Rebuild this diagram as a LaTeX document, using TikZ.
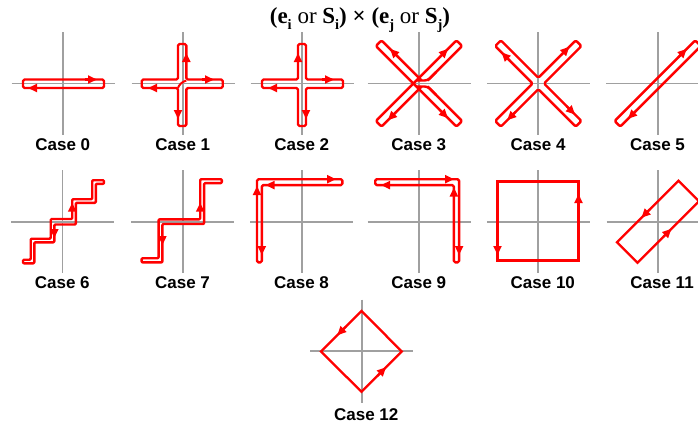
\documentclass[tikz,border=0pt]{standalone}
\usepackage{fontspec}
\setmainfont{Liberation Serif}
\newfontfamily\labfont{Liberation Sans}
\usetikzlibrary{arrows.meta}
\definecolor{axgray}{RGB}{160,160,160}
\definecolor{lred}{RGB}{255,0,0}
\newcommand{\drawaxes}[2]{\draw[ax] ({#1-51.5},#2) -- ({#1+51.5},#2); \draw[ax] (#1,{#2-51.5}) -- (#1,{#2+51.5});}
\newcommand{\lsub}[1]{\raisebox{-0.28em}{\fontsize{14.5}{14.5}\selectfont\bfseries #1}}
\begin{document}
\begin{tikzpicture}[x=1pt,y=-1pt,
  ax/.style={draw=axgray,line width=1.7pt},
  rl/.style={draw=lred,line width=2.4pt,rounded corners=1.5pt,line join=round},
  sq/.style={draw=lred,line width=2.3pt,line join=miter},
  arr/.style={draw=lred,line width=2.1pt,-{Triangle[length=9pt,width=8pt]}},
  lab/.style={font=\labfont\bfseries\fontsize{17}{17}\selectfont,anchor=base west,inner sep=0pt},
  ttl/.style={font=\fontsize{23}{23}\selectfont,anchor=base,inner sep=0pt}]
\useasboundingbox (0,0) rectangle (698,426);

% title
\node[ttl] (title) at (360,23.5) {\textbf{(e}\lsub{i} or \textbf{S}\lsub{i}\textbf{)} \textbf{×} \textbf{(e}\lsub{j} or \textbf{S}\lsub{j}\textbf{)}};

% axes
\drawaxes{63}{83.5}
\drawaxes{183}{83.5}
\drawaxes{302}{83.5}
\drawaxes{419}{83.5}
\drawaxes{538.3}{83.5}
\drawaxes{657.7}{83.5}
\drawaxes{62.5}{221.7}
\drawaxes{182.7}{221.7}
\drawaxes{301.7}{221.7}
\drawaxes{419}{221.7}
\drawaxes{538.3}{221.7}
\drawaxes{658}{221.7}
\drawaxes{361.7}{351.2}

% Case 0
\draw[rl] (23,79.5) rectangle (104,88);
\draw[arr] (85,79.5) -- (97,79.5);
\draw[arr] (40,88) -- (28,88);

% Case 1
\draw[rl] (141.7,79.5) -- (178,79.5) -- (178,44) -- (186.3,44) -- (186.3,79.5) -- (222.7,79.5) -- (222.7,88) -- (186.3,88) -- (186.3,126) -- (178,126) -- (178,88) -- (141.7,88) -- cycle;
\draw[draw=lred,line width=2pt] (186.3,80.5) .. controls (181.5,82) and (179,85) .. (178,88);
\draw[arr] (186.3,65) -- (186.3,53);
\draw[arr] (202,79.5) -- (214,79.5);
\draw[arr] (160,88) -- (148,88);
\draw[arr] (178,107) -- (178,119);

% Case 2
\draw[rl] (262,79.5) -- (298,79.5) -- (298,44) -- (306,44) -- (306,79.5) -- (343,79.5) -- (343,88) -- (306,88) -- (306,126) -- (298,126) -- (298,88) -- (262,88) -- cycle;
\draw[arr] (298,65) -- (298,53);
\draw[arr] (322,79.5) -- (334,79.5);
\draw[arr] (280,88) -- (268,88);
\draw[arr] (306,107) -- (306,119);

% Case 3
\begin{scope}[shift={(419,83.5)},rotate=-45]
\draw[rl] (-0.24,-4) -- (-57,-4) -- (-57,4) -- (57,4) -- (57,-4) -- (8.25,-4);
\draw[rl,rounded corners=3pt] (20,-4) -- (8.25,-4) -- (0.25,4);
\draw[rl] (4,0.25) -- (4,57) -- (-4,57) -- (-4,-57) -- (4,-57) -- (4,-8.25);
\draw[rl,rounded corners=3pt] (4,-20) -- (4,-8.25) -- (-4,-0.25);
\draw[arr] (-33,-4) -- (-45,-4);
\draw[arr] (-4,-33) -- (-4,-45);
\draw[arr] (33,4) -- (45,4);
\draw[arr] (4,36) -- (4,48);
\end{scope}

% Case 4
\begin{scope}[shift={(538.3,83.5)},rotate=-45]
\draw[rl] (-57,-4) -- (-4,-4) -- (-4,-57) -- (4,-57) -- (4,-4) -- (57,-4) -- (57,4) -- (4,4) -- (4,57) -- (-4,57) -- (-4,4) -- (-57,4) -- cycle;
\draw[arr] (-36,4) -- (-48,4);
\draw[arr] (-4,-36) -- (-4,-48);
\draw[arr] (36,-4) -- (48,-4);
\draw[arr] (4,36) -- (4,48);
\end{scope}

% Case 5
\begin{scope}[shift={(657.7,83.5)},rotate=45]
\draw[rl] (-57,-4) rectangle (57,4);
\draw[arr] (33,-4) -- (45,-4);
\draw[arr] (-34,4) -- (-46,4);
\end{scope}

% Case 6
\draw[rl,rounded corners=1pt] (23,259.7) -- (30.7,259.7) -- (30.7,238.7) -- (50.7,238.7) -- (50.7,219) -- (72.2,219) -- (72.2,199.2) -- (92.2,199.2) -- (92.2,180.2) -- (104,180.2) -- (104,183.8) -- (95.8,183.8) -- (95.8,202.8) -- (75.8,202.8) -- (75.8,224.5) -- (54.3,224.5) -- (54.3,242.3) -- (34.3,242.3) -- (34.3,263.3) -- (23,263.3) -- cycle;
\draw[arr] (54.3,228) -- (54.3,238);
\draw[arr] (72.2,213) -- (72.2,202.7);

% Case 7
\draw[rl,rounded corners=1pt] (141.6,258.2) -- (158.6,258.2) -- (158.6,219.3) -- (200.2,219.3) -- (200.2,179.2) -- (221.8,179.2) -- (221.8,183.1) -- (204.1,183.1) -- (204.1,224) -- (162.4,224) -- (162.4,262.4) -- (141.6,262.4) -- cycle;
\draw[arr] (162.4,234) -- (162.4,245);
\draw[arr] (200.2,213) -- (200.2,202.7);

% Case 8
\draw[rl] (257,262.4) -- (257,179.2) -- (342.4,179.2) -- (342.4,185.1) -- (261.8,185.1) -- (261.8,262.4) -- cycle;
\draw[arr] (257,198) -- (257,186);
\draw[arr] (324,179.2) -- (336,179.2);
\draw[arr] (277,185.1) -- (265.5,185.1);
\draw[arr] (261.8,243) -- (261.8,255);

% Case 9
\draw[rl] (375.2,179.2) -- (459.1,179.2) -- (459.1,262.4) -- (453.9,262.4) -- (453.9,185.1) -- (375.2,185.1) -- cycle;
\draw[arr] (443,179.2) -- (454,179.2);
\draw[arr] (392,185.1) -- (381,185.1);
\draw[arr] (453.9,199) -- (453.9,187.5);
\draw[arr] (459.1,243) -- (459.1,255);

% Case 10
\draw[sq] (497.5,181.5) rectangle (578.5,260.5);
\draw[arr] (578.5,206) -- (578.5,194);
\draw[arr] (497.5,243) -- (497.5,255);

% Case 11
\begin{scope}[shift={(658,221.7)},rotate=45]
\draw[sq] (-43.5,-14.5) rectangle (43.5,14.5);
\draw[arr] (3,-14.5) -- (-9,-14.5);
\draw[arr] (-7,14.5) -- (4.5,14.5);
\end{scope}

% Case 12
\draw[sq] (361.5,311) -- (401.8,351.5) -- (361.5,391.8) -- (321,351.5) -- cycle;
\draw[arr] (346,326.5) -- (337.2,335.3);
\draw[arr] (377.3,376) -- (386.1,367.2);

% labels
\node[lab] (l0) at (35.2,150) {Case 0};
\node[lab] (l1) at (155.2,150) {Case 1};
\node[lab] (l2) at (274.2,150) {Case 2};
\node[lab] (l3) at (391.2,150) {Case 3};
\node[lab] (l4) at (510.5,150) {Case 4};
\node[lab] (l5) at (629.9,150) {Case 5};
\node[lab] (l6) at (34.7,288.5) {Case 6};
\node[lab] (l7) at (154.9,288.5) {Case 7};
\node[lab] (l8) at (273.9,288.5) {Case 8};
\node[lab] (l9) at (391.2,288.5) {Case 9};
\node[lab] (l10) at (510.5,288.5) {Case 10};
\node[lab] (l11) at (630.2,288.5) {Case 11};
\node[lab] (l12) at (333.9,420) {Case 12};
\end{tikzpicture}
\end{document}
